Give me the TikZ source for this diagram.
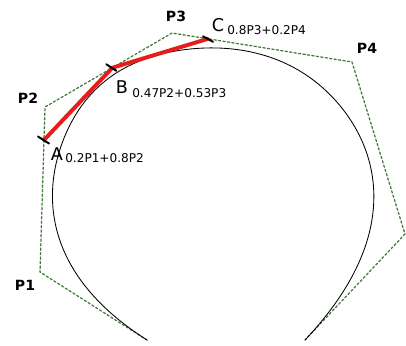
\documentclass[tikz,border=0pt]{standalone}
\usepackage{fontspec}
\setmainfont{DejaVu Sans}
\usepackage{tikz}
\usetikzlibrary{calc, positioning}

\definecolor{polygreen}{RGB}{66,122,58}
\definecolor{chordred}{RGB}{232,28,24}

\begin{document}
\begin{tikzpicture}[x=0.025cm, y=-0.025cm, line cap=round, line join=round,
	ptlab/.style={inner sep=0pt, font=\fontsize{10}{12}\selectfont\bfseries},
	letlab/.style={inner sep=0pt, font=\fontsize{12.5}{14}\selectfont},
	sublab/.style={inner sep=0pt, anchor=west, font=\fontsize{8.6}{10}\selectfont},
	tick/.style={black, line width=1.4pt}]
				\useasboundingbox (0,0) rectangle (406,345);
				\coordinate (P0) at (147,340);
				\coordinate (P1) at (40,272);
				\coordinate (P2) at (45,107);
				\coordinate (P3) at (172,33);
				\coordinate (P4) at (352,62);
				\coordinate (P5) at (405,234);
				\coordinate (P6) at (305,340);
				\coordinate (A) at ($(P1)!0.8!(P2)$);
				\coordinate (B) at ($(P2)!0.53!(P3)$);
				\coordinate (C) at ($(P3)!0.2!(P4)$);
				
				% bezier pieces of the clamped cubic spline
				\coordinate (Q1) at ($0.25*(P1)+0.5833*(P2)+0.1667*(P3)$);
				\coordinate (Q2) at ($0.1667*(P2)+0.6667*(P3)+0.1667*(P4)$);
				\coordinate (Q3) at ($0.1667*(P3)+0.5833*(P4)+0.25*(P5)$);
				
				\draw[polygreen, line width=0.9pt, dash pattern=on 1.6pt off 1.6pt]
					(P0)--(P1)--(P2)--(P3)--(P4)--(P5)--(P6);
				\draw[line width=0.6pt] (P0)
					.. controls (P1) and ($(P1)!0.5!(P2)$) .. (Q1)
					.. controls ($(P2)!0.3333!(P3)$) and ($(P2)!0.6667!(P3)$) .. (Q2)
					.. controls ($(P3)!0.3333!(P4)$) and ($(P3)!0.6667!(P4)$) .. (Q3)
					.. controls ($(P4)!0.5!(P5)$) and (P5) .. (P6);
				\draw[chordred, line width=2.8pt] (A)--(B)--(C);
				
				\draw[tick] ($(A)+(-6,-3.5)$)--($(A)+(5,3.5)$);
				\draw[tick] ($(B)+(-6,-3.5)$)--($(B)+(4,3)$);
				\draw[tick] ($(C)+(-5,-2.5)$)--($(C)+(5,3)$);
				
				\node[ptlab] (labP1) at (25,285) {P1};
				\node[ptlab] (labP2) at (28,98) {P2};
				\node[ptlab] (labP3) at (176,16) {P3};
				\node[ptlab] (labP4) at (367,48) {P4};
				
				\node[letlab] (labA) at (57,154) {A};
				\node[letlab] (labB) at (122,87) {B};
				\node[letlab] (labC) at (218,25) {C};
				\node[sublab] (subA) at (65,158) {0.2P1+0.8P2};
				\node[sublab] (subB) at (132,93) {0.47P2+0.53P3};
				\node[sublab] (subC) at (227,30) {0.8P3+0.2P4};
			\end{tikzpicture}
\end{document}
